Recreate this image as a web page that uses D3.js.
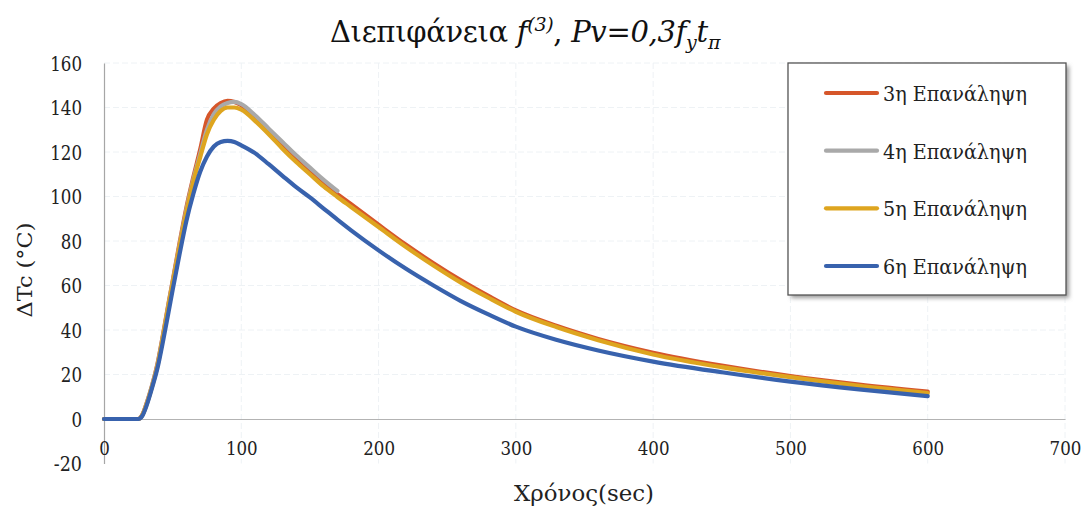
<!DOCTYPE html>
<html>
<head>
<meta charset="utf-8">
<script src="https://cdn.jsdelivr.net/npm/d3@7/dist/d3.min.js"></script>
<style>
  html, body { margin: 0; padding: 0; background: #ffffff; }
</style>
</head>
<body>
<svg id="chart" width="1086" height="511"></svg>
<script>
// Time samples (sec)
const times = [0, 10, 20, 25, 28, 31, 35, 39, 43, 47, 50, 55, 60, 65, 70, 75, 80, 85, 90, 95, 100,
  110, 120, 130, 140, 150, 160, 170, 180, 200, 220, 240, 260, 280, 300, 330, 360, 400, 450, 500, 550, 600];

// ΔTc (°C) for each repetition
const rep3 = [0, 0, 0, 0, 2, 7, 15, 25, 38, 52, 62, 79, 95, 108.5, 121, 134.5, 139.5, 142, 143, 142.5, 141,
  135.5, 129, 122.5, 116.5, 111, 105.5, 101, 96.5, 87.3, 78.3, 70, 62.3, 55.3, 48.8, 41.8, 36, 29.8, 24, 19.3, 15.5, 12.3];
const rep4 = [0, 0, 0, 0, 1.8, 6.8, 15, 24.5, 37.5, 51.5, 61.5, 78, 94, 107.5, 119, 130, 137, 140.5, 142, 142.5, 141.5,
  136.5, 130.5, 124.5, 118.5, 113, 107.5, 102.5];
const rep5 = [0, 0, 0, 0, 1.8, 6.5, 14.5, 24, 37, 51, 61, 77.5, 93, 106.5, 117.5, 128, 134.5, 138.5, 140, 140, 139,
  134, 128, 121.5, 115.5, 110, 104.5, 99.8, 95.3, 86.3, 77.3, 69, 61.3, 54.5, 48.2, 41.2, 35.4, 29, 23.3, 18.8, 14.9, 11.7];
const rep6 = [0, 0, 0, 0, 1.5, 6, 14, 23, 35, 48, 58, 74, 89, 101, 111, 118, 122.5, 124.5, 125, 124.5, 123,
  119.5, 114.5, 109.3, 104.2, 99.6, 94.6, 89.6, 84.8, 75.8, 67.5, 60, 53, 47, 41.5, 35.5, 30.8, 25.8, 21, 16.8, 13.3, 10.3];

const seriesNames = ["3η Επανάληψη", "4η Επανάληψη", "5η Επανάληψη", "6η Επανάληψη"];
const seriesValues = [rep3, rep4, rep5, rep6];
const seriesColors = ["#d6562a", "#a9a9a9", "#dea51f", "#3862ad"];

const xTicks = [0, 100, 200, 300, 400, 500, 600, 700];
const yTicks = [-20, 0, 20, 40, 60, 80, 100, 120, 140, 160];

const FONT = "DejaVu Serif";
// approximate advance widths of the condensed serif face used for numbers
const numWidth = s => s.split("").reduce((w, c) => w + (c === "-" ? 7 : 10.6), 0);

const svg = d3.select("#chart");

const x = d3.scaleLinear().domain([0, 700]).range([104, 1065]);
const y = d3.scaleLinear().domain([-20, 160]).range([463.5, 63]);

// faint gridlines
const grid = svg.append("g").attr("stroke", "#eef2f5").attr("stroke-width", 1).attr("stroke-dasharray", "6,3");
grid.selectAll("line.h").data(yTicks.filter(v => v !== 0 && v !== -20)).join("line")
  .attr("x1", x(0)).attr("x2", x(700)).attr("y1", d => y(d)).attr("y2", d => y(d));
grid.selectAll("line.v").data(xTicks.filter(v => v !== 0)).join("line")
  .attr("x1", d => x(d)).attr("x2", d => x(d)).attr("y1", y(160)).attr("y2", y(-20));

const fmt = d => String(d);

// y axis
const yAxis = svg.append("g")
  .attr("transform", `translate(${x(0)},0)`)
  .call(d3.axisLeft(y).tickValues(yTicks).tickFormat(fmt).tickSize(0).tickPadding(22))
  .attr("font-family", FONT);
yAxis.select(".domain").attr("stroke", "#a6a6a6").attr("stroke-width", 1.2);
yAxis.selectAll("text").attr("font-size", 20).attr("fill", "#222")
  .attr("dy", "0.36em")
  .attr("textLength", d => numWidth(fmt(d))).attr("lengthAdjust", "spacingAndGlyphs");

// x axis at y = 0
const xAxis = svg.append("g")
  .attr("transform", `translate(0,${y(0)})`)
  .call(d3.axisBottom(x).tickValues(xTicks).tickFormat(fmt).tickSize(0).tickSizeOuter(0))
  .attr("font-family", FONT);
xAxis.select(".domain").attr("stroke", "#b3b3b3").attr("stroke-width", 1);
xAxis.selectAll("text").attr("font-size", 19).attr("fill", "#222")
  .attr("y", 36).attr("dy", null)
  .attr("textLength", d => numWidth(fmt(d))).attr("lengthAdjust", "spacingAndGlyphs");

// series lines
const line = d3.line()
  .x((d, i) => x(times[i]))
  .y(d => y(d))
  .curve(d3.curveMonotoneX);

svg.append("g").selectAll("path").data(seriesValues).join("path")
  .attr("d", d => line(d))
  .attr("fill", "none")
  .attr("stroke", (d, i) => seriesColors[i])
  .attr("stroke-width", 4.2)
  .attr("stroke-linecap", "round")
  .attr("stroke-linejoin", "round");

// title
const title = svg.append("text")
  .attr("x", 525).attr("y", 42)
  .attr("text-anchor", "middle")
  .attr("font-size", 29)
  .attr("fill", "#111")
  .attr("font-family", FONT)
  .attr("letter-spacing", -0.3);
title.append("tspan").text("Διεπιφάνεια ");
title.append("tspan").attr("font-style", "italic").text("f");
title.append("tspan").attr("font-style", "italic").attr("font-size", 19).attr("dy", -11).text("(3)");
title.append("tspan").attr("dy", 11).text(", ");
title.append("tspan").attr("font-style", "italic").text("Pv=0,3f");
title.append("tspan").attr("font-style", "italic").attr("font-size", 19).attr("dy", 7).text("y");
title.append("tspan").attr("font-style", "italic").attr("dy", -7).text("t");
title.append("tspan").attr("font-style", "italic").attr("font-size", 19).attr("dy", 7).text("π");

// axis titles
svg.append("text")
  .attr("x", 584).attr("y", 501)
  .attr("text-anchor", "middle")
  .attr("font-size", 23)
  .attr("fill", "#222")
  .attr("font-family", FONT)
  .attr("textLength", 140).attr("lengthAdjust", "spacingAndGlyphs")
  .text("Χρόνος(sec)");

svg.append("text")
  .attr("transform", "translate(32,270) rotate(-90)")
  .attr("text-anchor", "middle")
  .attr("font-size", 21)
  .attr("fill", "#222")
  .attr("font-family", FONT)
  .attr("textLength", 95).attr("lengthAdjust", "spacingAndGlyphs")
  .text("ΔTc (°C)");

// legend
const defs = svg.append("defs");
defs.append("filter").attr("id", "shadow").attr("x", "-10%").attr("y", "-10%").attr("width", "130%").attr("height", "130%")
  .append("feGaussianBlur").attr("stdDeviation", 2);

const lg = svg.append("g");
lg.append("rect").attr("x", 791).attr("y", 66).attr("width", 278).attr("height", 232)
  .attr("fill", "#9a9a9a").attr("filter", "url(#shadow)");
lg.append("rect").attr("x", 788).attr("y", 63).attr("width", 278).attr("height", 232)
  .attr("fill", "#ffffff").attr("stroke", "#555").attr("stroke-width", 1.3);

const legendY = d3.scalePoint().domain(seriesNames).range([93, 266]);
const items = lg.selectAll("g.item").data(seriesNames).join("g")
  .attr("transform", d => `translate(0,${legendY(d)})`);
items.append("line")
  .attr("x1", 826).attr("x2", 877).attr("y1", 0).attr("y2", 0)
  .attr("stroke", (d, i) => seriesColors[i]).attr("stroke-width", 4.2).attr("stroke-linecap", "round");
items.append("text")
  .attr("x", 883).attr("y", 8)
  .attr("font-size", 20).attr("fill", "#222")
  .attr("font-family", FONT)
  .attr("textLength", 144).attr("lengthAdjust", "spacingAndGlyphs")
  .text(d => d);
</script>
</body>
</html>
